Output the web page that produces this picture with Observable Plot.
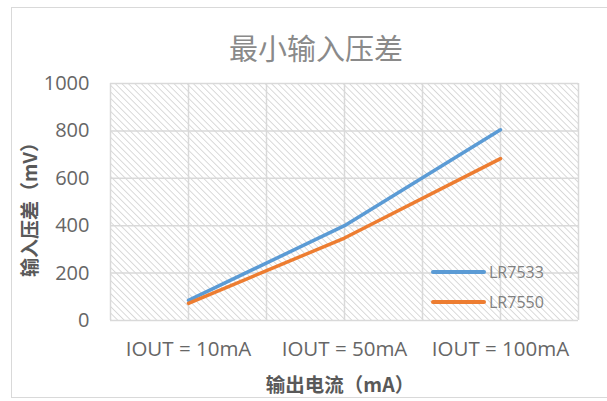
<!DOCTYPE html>
<html><head><meta charset="utf-8">
<script src="https://cdn.jsdelivr.net/npm/d3@7"></script>
<script src="https://cdn.jsdelivr.net/npm/@observablehq/plot@0.6"></script>
<style>
body{margin:0;width:607px;height:401px;position:relative;overflow:hidden;background:#fff;font-family:"Open Sans",sans-serif}
.abs{position:absolute}
</style></head>
<body>
<div class="abs" style="left:11px;top:7px;width:620px;height:389px;border:1.5px solid #d9d9d9"></div>
<div id="chart" class="abs" style="left:0;top:60px"></div>
<div id="title" class="abs" style="left:0;top:27px;width:632px;text-align:center;font:29px 'Noto Sans CJK SC';color:#8a8a8a;line-height:40px"></div>
<div id="ylabel" class="abs" style="left:28px;top:205px;transform:translate(-50%,-50%) rotate(-90deg);white-space:nowrap;font:bold 19px 'Noto Sans CJK SC';color:#595959"></div>
<div id="xlabel" class="abs" style="left:340px;top:383px;transform:translate(-50%,-50%);white-space:nowrap;font:bold 19.5px 'Noto Sans CJK SC';color:#595959"></div>
<div id="legend" class="abs" style="left:431px;top:257px"></div>
<script>
const titleText = "最小输入压差";
const yTitle = "输入压差（mV）";
const xTitle = "输出电流（mA）";
const categories = ["IOUT = 10mA", "IOUT = 50mA", "IOUT = 100mA"];
const seriesNames = ["LR7533", "LR7550"];
const lr7533 = [85, 400, 805];
const lr7550 = [72, 348, 683];
const seriesColors = ["#5b9bd5", "#ed7d31"];
const yTicks = [0, 200, 400, 600, 800, 1000];

document.getElementById("title").textContent = titleText;
document.getElementById("ylabel").textContent = yTitle;
document.getElementById("xlabel").textContent = xTitle;

const seriesValues = [lr7533, lr7550];
const rows = [];
seriesNames.forEach((s, si) => categories.forEach((c, i) => rows.push({series: s, cat: c, pos: i + 0.5, value: seriesValues[si][i]})));
const xGrid = d3.range(0, categories.length + 0.01, 0.5);

const plot = Plot.plot({
  width: 607, height: 340,
  marginLeft: 110, marginRight: 29, marginTop: 23, marginBottom: 80,
  style: {fontFamily: "'Open Sans', sans-serif", fontSize: "19px", color: "#666"},
  x: {domain: [0, categories.length], axis: null},
  y: {domain: [0, 1000], axis: null},
  color: {domain: seriesNames, range: seriesColors},
  marks: [
    Plot.frame({fill: "url(#hatch)", stroke: null}),
    Plot.ruleX(xGrid, {x: d => d, stroke: "#d9d9d9", strokeWidth: 1.5, strokeOpacity: 1}),
    Plot.ruleY(yTicks, {y: d => d, stroke: "#d9d9d9", strokeWidth: 1.5, strokeOpacity: 1}),
    Plot.axisY({ticks: yTicks, tickFormat: d => String(d), tickSize: 0, tickPadding: 21, fill: "#666", fontSize: 20, label: null}),
    Plot.axisX({ticks: categories.map((c, i) => i + 0.5), tickFormat: d => categories[d - 0.5], tickSize: 0, tickPadding: 21, fill: "#666", fontSize: 20.5, label: null}),
    Plot.line(rows, {x: "pos", y: "value", z: "series", stroke: "series", strokeWidth: 3.5, strokeLinecap: "round"})
  ]
});
const defs = document.createElementNS("http://www.w3.org/2000/svg", "defs");
defs.innerHTML = '<pattern id="hatch" width="4.6" height="4.6" patternUnits="userSpaceOnUse" patternTransform="rotate(-45)"><rect width="4.6" height="4.6" fill="#fff"/><line x1="0" y1="0" x2="0" y2="4.6" stroke="#d6d6d6" stroke-width="1.8"/></pattern>';
plot.insertBefore(defs, plot.firstChild);
document.getElementById("chart").appendChild(plot);

const lg = d3.select("#legend");
seriesNames.forEach((s, i) => {
  const row = lg.append("div").style("display", "flex").style("align-items", "center").style("height", "30px");
  row.append("div").style("width", "55px").style("height", "4px").style("border-radius", "2px").style("background", seriesColors[i]);
  row.append("span").style("margin-left", "3px").style("font", "16px 'Open Sans', sans-serif").style("color", "#808080").text(s);
});
</script>
</body></html>
